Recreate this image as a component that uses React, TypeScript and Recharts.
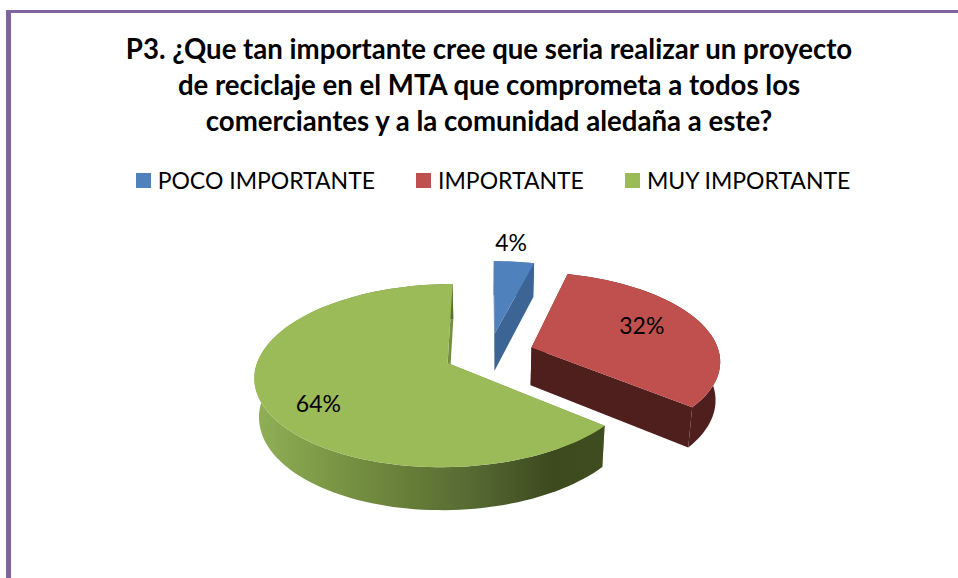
import { Cell, Legend, Pie, PieChart } from 'recharts';

const categories = ['POCO IMPORTANTE', 'IMPORTANTE', 'MUY IMPORTANTE'];
const percentages = [4, 32, 64];

const topColors = ['#4F81BD', '#C0504D', '#9BBB59'];
const cutColors = ['#3C6494', '#4F1F1E', '#74903C'];
const wallColors = ['#3C6494', '#4F1F1E', 'url(#greenWall)'];

const titleLines = [
  'P3. ¿Que tan importante cree que seria realizar un proyecto',
  'de reciclaje en el MTA que comprometa a todos los',
  'comerciantes y a la comunidad aledaña a este?',
];
const titleBaselines = [59, 95, 131];

const data = categories.map((name, i) => ({ name, value: percentages[i] }));

const FONT = 'Lato, "Open Sans", sans-serif';
const RAD = Math.PI / 180;
// fake 3D: every slice is exploded in the pie's plane, then the plane is tilted with some perspective
const EXPLODE = 0.24;
const SQUASH = 0.465;
const PERSPECTIVE = 0.135;
const DEPTH = 38;

function project(cx: number, cy: number, r: number, u: number, v: number) {
  const s = 1 / (1 - PERSPECTIVE * v);
  return { x: cx + r * u * s, y: cy + r * SQUASH * v * s };
}

// same point on the bottom face of the disc
function lower(cx: number, cy: number, p: { x: number; y: number }) {
  return { x: cx + (p.x - cx) * 0.98, y: cy + DEPTH + (p.y - cy) * 1.044 };
}

function pathOf(points: { x: number; y: number }[]) {
  return points.map((p, i) => `${i ? 'L' : 'M'}${p.x.toFixed(1)},${p.y.toFixed(1)}`).join(' ') + ' Z';
}

function Slice3D(props: any) {
  const { cx, cy, outerRadius, startAngle, endAngle, midAngle, fill, name } = props;
  const idx = categories.indexOf(name);
  const ou = EXPLODE * Math.cos(midAngle * RAD);
  const ov = -EXPLODE * Math.sin(midAngle * RAD);

  const rim = [];
  const steps = Math.max(6, Math.ceil(Math.abs(endAngle - startAngle) / 2));
  for (let i = 0; i <= steps; i++) {
    const a = (startAngle + ((endAngle - startAngle) * i) / steps) * RAD;
    rim.push(project(cx, cy, outerRadius, ou + Math.cos(a), ov - Math.sin(a)));
  }
  const apex = project(cx, cy, outerRadius, ou, ov);
  const rimLow = rim.map((p) => lower(cx, cy, p));
  const apexLow = lower(cx, cy, apex);
  const first = rim[0];
  const last = rim[rim.length - 1];

  return (
    <g>
      <defs>
        <linearGradient id="greenWall" gradientUnits="userSpaceOnUse" x1={258} y1={0} x2={604} y2={0}>
          <stop offset="0%" stopColor="#8FAF55" />
          <stop offset="35%" stopColor="#6E873C" />
          <stop offset="65%" stopColor="#536631" />
          <stop offset="85%" stopColor="#3C4A1E" />
          <stop offset="100%" stopColor="#404D20" />
        </linearGradient>
      </defs>
      <path d={pathOf([apex, first, rimLow[0], apexLow])} fill={cutColors[idx]} />
      <path d={pathOf([apex, last, rimLow[rimLow.length - 1], apexLow])} fill={cutColors[idx]} />
      <path d={pathOf([...rim, ...[...rimLow].reverse()])} fill={wallColors[idx]} />
      <path d={pathOf([apex, ...rim])} fill={fill} />
    </g>
  );
}

// distance from the slice's apex, and a small nudge, for each percent label
const labelRadius = [1.3, 0.58, 0.75];
const labelNudge = [
  [-8, -1],
  [11, -8],
  [8, 10],
];

function renderLabel(props: any) {
  const { cx, cy, outerRadius, midAngle, value, name } = props;
  const idx = categories.indexOf(name);
  const c = Math.cos(midAngle * RAD);
  const sn = Math.sin(midAngle * RAD);
  const p = project(cx, cy, outerRadius, (EXPLODE + labelRadius[idx]) * c, -(EXPLODE + labelRadius[idx]) * sn);
  return (
    <text
      x={p.x + labelNudge[idx][0]}
      y={p.y + labelNudge[idx][1]}
      textAnchor="middle"
      dominantBaseline="central"
      fontFamily={FONT}
      fontSize={23}
      fill="#000"
    >
      {value}%
    </text>
  );
}

function renderLegend(props: any) {
  const items = props.payload || [];
  return (
    <div style={{ display: 'flex', justifyContent: 'center', gap: 41, fontFamily: FONT, fontSize: 23, color: '#000', lineHeight: '30px' }}>
      {items.map((it: any) => (
        <div key={it.value} style={{ display: 'flex', alignItems: 'center' }}>
          <span style={{ width: 15, height: 15, background: it.color, marginRight: 7 }} />
          {it.value}
        </div>
      ))}
    </div>
  );
}

export default function App() {
  return (
    <div style={{ position: 'absolute', left: 0, top: 0, width: 958, height: 578, background: '#fff', overflow: 'hidden' }}>
      <div style={{ position: 'absolute', left: 6, top: 10, right: 0, bottom: 0, borderLeft: '5px solid #8064A2', borderTop: '3px solid #8064A2' }} />
      <PieChart width={958} height={578} margin={{ top: 0, right: 0, bottom: 0, left: 0 }} style={{ position: 'absolute', left: 0, top: 0 }}>
        {titleLines.map((line, i) => (
          <text key={line} x={489} y={titleBaselines[i]} textAnchor="middle" fontFamily={FONT} fontWeight={700} fontSize={27.6} fill="#000">
            {line}
          </text>
        ))}
        <Legend content={renderLegend} verticalAlign="middle" itemSorter={null} wrapperStyle={{ left: 0, top: 165, width: 986 }} />
        <Pie
          data={data}
          dataKey="value"
          nameKey="name"
          cx={489}
          cy={354}
          outerRadius={188}
          startAngle={90}
          endAngle={-270}
          stroke="none"
          shape={Slice3D}
          label={renderLabel}
          labelLine={false}
          isAnimationActive={false}
        >
          {data.map((d, i) => (
            <Cell key={d.name} fill={topColors[i]} />
          ))}
        </Pie>
      </PieChart>
    </div>
  );
}
